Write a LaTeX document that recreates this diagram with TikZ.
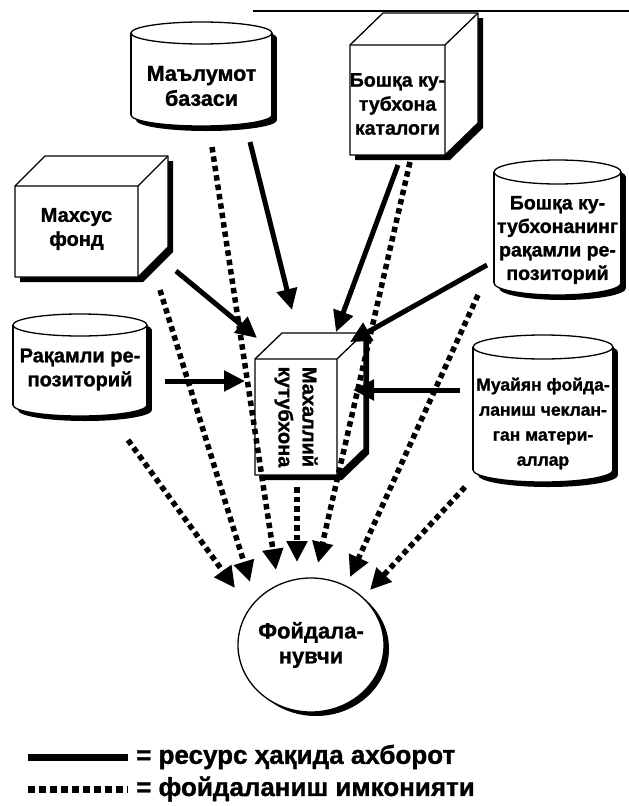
\documentclass[tikz,border=0pt]{standalone}
\usepackage{fontspec}
\setmainfont{Liberation Sans}
\newfontfamily\lblfont{Liberation Sans}[BoldFeatures={FakeBold=1.2}]
\usetikzlibrary{arrows.meta}
\tikzset{
  lbl/.style={font=\lblfont\bfseries\fontsize{20}{24}\selectfont, align=center, inner sep=0pt},
  legtxt/.style={font=\lblfont\bfseries\fontsize{26}{28}\selectfont, inner sep=0pt, anchor=west},
  shapeline/.style={line width=1.3pt, fill=white},
  solidarr/.style={line width=5pt, -{Triangle[length=21pt,width=20pt]}},
  dotarr/.style={line width=5.5pt, dash pattern=on 5.5pt off 4pt, -{Triangle[length=21pt,width=20pt]}},
}
% cylinder: x1 x2 ytop ybot ry
\newcommand{\drawcyl}[5]{%
  \pgfmathsetmacro\cylcx{(#1+#2)/2}%
  \pgfmathsetmacro\cylrx{(#2-#1)/2}%
  \begin{scope}[shift={(5,5)}]
    \fill[black] (#1,#3) rectangle (#2,#4);
    \fill[black] (\cylcx,#4) ellipse [x radius=\cylrx, y radius=#5];
    \fill[black] (\cylcx,#3) ellipse [x radius=\cylrx, y radius=#5];
  \end{scope}
  \fill[white] (#1,#3) rectangle (#2,#4);
  \fill[white] (\cylcx,#4) ellipse [x radius=\cylrx, y radius=#5];
  \draw[shapeline] (\cylcx,#3) ellipse [x radius=\cylrx, y radius=#5];
  \draw[line width=1.3pt] (#1,#3) -- (#1,#4) (#2,#3) -- (#2,#4);
  \begin{scope}
    \clip (#1-3,#4) rectangle (#2+3,#4+#5+3);
    \draw[line width=1.3pt] (\cylcx,#4) ellipse [x radius=\cylrx, y radius=#5];
  \end{scope}
}
% cube: x1 x2 y1 y2 dx dy
\newcommand{\drawcube}[6]{%
  \fill[black,shift={(5,5)}] (#1,#4) -- (#1,#3) -- (#1+#5,#3-#6) -- (#2+#5,#3-#6) -- (#2+#5,#4-#6) -- (#2,#4) -- cycle;
  \draw[shapeline,line join=round] (#1,#4) -- (#1,#3) -- (#1+#5,#3-#6) -- (#2+#5,#3-#6) -- (#2+#5,#4-#6) -- (#2,#4) -- cycle;
  \draw[line width=1.3pt] (#1,#3) -- (#2,#3) -- (#2,#4) (#2,#3) -- (#2+#5,#3-#6);
}
\begin{document}
\begin{tikzpicture}[x=1pt,y=-1pt]
\useasboundingbox (0,0) rectangle (629,806);
\fill[white] (0,0) rectangle (629,806);

% top rule
\coordinate (tl1) at (253,11);
\coordinate (tl2) at (629,11);
\draw[line width=1.8pt] (tl1) -- (tl2);

% shapes
\drawcyl{131}{272}{33}{115}{11}
\node[lbl,font=\lblfont\bfseries\fontsize{21.5}{25}\selectfont] (db) at (201.5,86) {Маълумот\\базаси};

\drawcube{350}{445}{45}{155}{33}{32}
\node[lbl,font=\lblfont\bfseries\fontsize{19.5}{24}\selectfont] (cat) at (397.5,104) {Бошқа ку-\\тубхона\\каталоги};

\drawcube{15}{138}{186}{277}{30}{30}
\node[lbl] (fond) at (76.5,229) {Махсус\\фонд};

\drawcyl{494}{621}{172}{283}{12}
\node[lbl,font=\lblfont\bfseries\fontsize{19.5}{23.5}\selectfont] (orep) at (557.5,240) {Бошқа ку-\\тубхонанинг\\рақамли ре-\\позиторий};

\drawcyl{13}{147}{325}{405}{11}
\node[lbl] (rep) at (80,369.5) {Рақамли ре-\\позиторий};

\drawcube{255}{337}{359}{475}{27}{26}
\node[lbl,rotate=-90] (lib) at (296,417) {Махаллий\\кутубхона};

\drawcyl{473}{613}{347}{470}{12}
\node[lbl,font=\lblfont\bfseries\fontsize{17.5}{25}\selectfont] (res) at (543,423.5) {Муайян фойда-\\ланиш чеклан-\\ган матери-\\аллар};

\fill[black] (316,649) ellipse [x radius=73, y radius=67];
\draw[shapeline] (311,645) ellipse [x radius=73, y radius=67];
\node[lbl,font=\lblfont\bfseries\fontsize{22}{25}\selectfont] (user) at (311,645) {Фойдала-\\нувчи};

% connector end points
\coordinate (s1a) at (250,142); \coordinate (s1b) at (292,310);
\coordinate (s2a) at (398,165); \coordinate (s2b) at (336,332);
\coordinate (s3a) at (176,271); \coordinate (s3b) at (257,338);
\coordinate (s4a) at (487,265); \coordinate (s4b) at (350,342);
\coordinate (s5a) at (165,381); \coordinate (s5b) at (245,381);
\coordinate (s6a) at (460,390); \coordinate (s6b) at (353,390);

\coordinate (d1a) at (212,147); \coordinate (d1b) at (276,570);
\coordinate (d2a) at (410,162); \coordinate (d2b) at (318,563);
\coordinate (d3a) at (160,290); \coordinate (d3b) at (250,582);
\coordinate (d4a) at (128,440); \coordinate (d4b) at (235,588);
\coordinate (d5a) at (478,295); \coordinate (d5b) at (350,577);
\coordinate (d6a) at (465,487); \coordinate (d6b) at (370,590);
\coordinate (d7a) at (297,487); \coordinate (d7b) at (297,562);

% dotted arrows
\foreach \i in {1,...,7} { \draw[dotarr] (d\i a) -- (d\i b); }
% solid arrows
\foreach \i in {1,...,6} { \draw[solidarr] (s\i a) -- (s\i b); }

% legend
\coordinate (la1) at (28,757); \coordinate (la2) at (128,757);
\coordinate (lb1) at (28,789); \coordinate (lb2) at (128,789);
\draw[line width=7pt] (la1) -- (la2);
\draw[line width=7pt, dash pattern=on 7pt off 4pt] (lb1) -- (lb2);
\node[legtxt] (lta) at (136,757) {= ресурс ҳақида ахборот};
\node[legtxt] (ltb) at (136,789) {= фойдаланиш имконияти};
\end{tikzpicture}
\end{document}
